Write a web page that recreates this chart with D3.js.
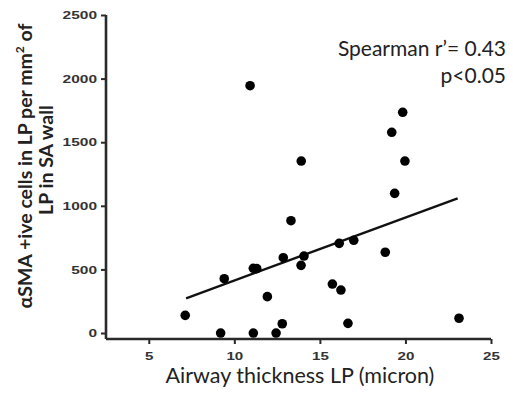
<!DOCTYPE html>
<html>
<head>
<meta charset="utf-8">
<script src="https://cdn.jsdelivr.net/npm/d3@7"></script>
<style>
  html, body { margin: 0; padding: 0; background: #fff; }
  svg { display: block; }
</style>
</head>
<body>
<svg id="chart" width="513" height="394"></svg>
<script>
// Airway thickness of the lamina propria (micron) per airway
const thickness = [7.13, 9.2, 9.41, 11.11, 11.31, 11.11, 10.92, 11.93, 12.44, 12.8, 12.86, 13.31, 13.9,
  14.07, 13.91, 15.73, 16.23, 16.64, 16.13, 16.98, 18.82, 19.37, 19.2, 19.84, 19.97, 23.13];
// αSMA positive cells in LP per mm² of LP
const cells = [139, 0, 427, 509, 506, 0, 1944, 286, 0, 73, 592, 883, 532,
  605, 1352, 385, 338, 76, 705, 729, 635, 1098, 1578, 1735, 1352, 116];
// Fitted trend line end points
const fitX = [7.18, 23.05];
const fitY = [273, 1059];
const xTicks = [5, 10, 15, 20, 25];
const yTicks = [0, 500, 1000, 1500, 2000, 2500];

const svg = d3.select("#chart");
const x = d3.scaleLinear().domain([2.5, 25]).range([106, 491]);
const y = d3.scaleLinear().domain([-47, 2500]).range([339, 15]);

const axisColor = "#2a2a2a";
const tickFont = "'Liberation Sans', Arial, sans-serif";

// y axis
const gy = svg.append("g").attr("transform", `translate(${x.range()[0]},0)`)
  .call(d3.axisLeft(y).tickValues(yTicks).tickSize(5).tickPadding(4).tickFormat(d3.format("d")));
gy.select(".domain").attr("d", `M0,${y(2500)}V${y.range()[0]}`)
  .attr("stroke", axisColor).attr("stroke-width", 2.6);
gy.selectAll(".tick line").attr("stroke", axisColor).attr("stroke-width", 2);
gy.selectAll(".tick text")
  .attr("font-family", tickFont).attr("font-weight", "bold").attr("font-size", 11.5)
  .attr("fill", "#333")
  .attr("textLength", d => String(d).length * 8.6)
  .attr("lengthAdjust", "spacingAndGlyphs");

// x axis
const gx = svg.append("g").attr("transform", `translate(0,${y.range()[0]})`)
  .call(d3.axisBottom(x).tickValues(xTicks).tickSize(5).tickPadding(8).tickFormat(d3.format("d")));
gx.select(".domain").attr("d", `M${x.range()[0]},0H${x.range()[1]}`)
  .attr("stroke", axisColor).attr("stroke-width", 2.6);
gx.selectAll(".tick line").attr("stroke", axisColor).attr("stroke-width", 2);
gx.selectAll(".tick text")
  .attr("font-family", tickFont).attr("font-weight", "bold").attr("font-size", 11.5)
  .attr("fill", "#333")
  .attr("textLength", d => String(d).length * 8.4)
  .attr("lengthAdjust", "spacingAndGlyphs");

// trend line
svg.append("line")
  .attr("x1", x(fitX[0])).attr("y1", y(fitY[0]))
  .attr("x2", x(fitX[1])).attr("y2", y(fitY[1]))
  .attr("stroke", "#111").attr("stroke-width", 2.4);

// points
svg.append("g").selectAll("circle")
  .data(thickness.map((t, i) => [t, cells[i]]))
  .join("circle")
  .attr("cx", d => x(d[0]))
  .attr("cy", d => y(d[1]))
  .attr("r", 4.8)
  .attr("fill", "#000");

const labelFont = "Lato, 'Open Sans', sans-serif";

// axis titles
svg.append("text")
  .attr("x", 300).attr("y", 383)
  .attr("text-anchor", "middle")
  .attr("font-family", labelFont).attr("font-size", 21.5)
  .attr("fill", "#222")
  .text("Airway thickness LP (micron)");

const yTitle1 = svg.append("text")
  .attr("transform", "translate(32,166) rotate(-90)")
  .attr("text-anchor", "middle")
  .attr("font-family", labelFont).attr("font-weight", "bold").attr("font-size", 19.5)
  .attr("fill", "#222");
yTitle1.append("tspan").text("αSMA +ive cells in LP per mm");
yTitle1.append("tspan").attr("font-size", 12).attr("dy", -8).text("2");
yTitle1.append("tspan").attr("dy", 8).text(" of");

svg.append("text")
  .attr("transform", "translate(53,160) rotate(-90)")
  .attr("text-anchor", "middle")
  .attr("font-family", labelFont).attr("font-weight", "bold").attr("font-size", 19.5)
  .attr("fill", "#222")
  .text("LP in SA wall");

// statistics annotation
svg.append("text")
  .attr("x", 506).attr("y", 56)
  .attr("text-anchor", "end")
  .attr("font-family", labelFont).attr("font-size", 21)
  .attr("fill", "#222")
  .text("Spearman r\u2019= 0.43");
svg.append("text")
  .attr("x", 506).attr("y", 83)
  .attr("text-anchor", "end")
  .attr("font-family", labelFont).attr("font-size", 21)
  .attr("fill", "#222")
  .text("p<0.05");
</script>
</body>
</html>
